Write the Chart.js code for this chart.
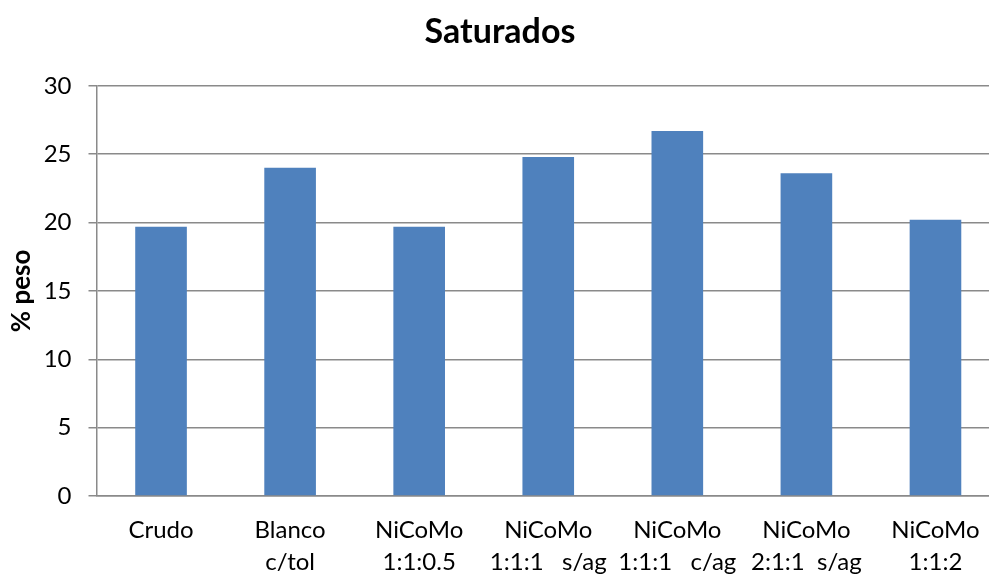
<!DOCTYPE html>
<html>
<head>
<meta charset="utf-8">
<script src="https://cdn.jsdelivr.net/npm/chart.js@4/dist/chart.umd.min.js"></script>
<style>
  html, body { margin: 0; padding: 0; background: #fff; overflow: hidden; }
  #wrap { width: 1000px; height: 574px; position: relative; }
</style>
</head>
<body>
<div id="wrap"><canvas id="chart"></canvas></div>
<script>
// categories (multi-line labels as in the original)
const categories = [
    ["Crudo"],
    ["Blanco", "c/tol"],
    ["NiCoMo", "1:1:0.5"],
    ["NiCoMo", "1:1:1   s/ag"],
    ["NiCoMo", "1:1:1   c/ag"],
    ["NiCoMo", "2:1:1  s/ag"],
    ["NiCoMo", "1:1:2"]
];

// % peso of saturados
const saturados = [19.7, 24.0, 19.7, 24.8, 26.7, 23.6, 20.2];

const yTicks = [0, 5, 10, 15, 20, 25, 30];

const FONT = "Lato, 'Open Sans', sans-serif";
const GRID = "#8a8a8a";

new Chart(document.getElementById("chart"), {
    type: "bar",
    data: {
        labels: categories,
        datasets: [{
            label: "Saturados",
            data: saturados,
            backgroundColor: "#4f81bd",
            borderWidth: 0,
            categoryPercentage: 1.0,
            barPercentage: 0.4
        }]
    },
    options: {
        responsive: true,
        maintainAspectRatio: false,
        animation: false,
        layout: { padding: 0 },
        plugins: {
            legend: { display: false },
            tooltip: { enabled: false },
            title: {
                display: true,
                text: "Saturados",
                color: "#000",
                font: { family: FONT, size: 34, weight: "bold", lineHeight: 1.2 },
                padding: { top: 12, bottom: 33 }
            }
        },
        scales: {
            x: {
                afterFit: (scale) => { scale.height = 78; },
                grid: { display: false, drawTicks: false },
                border: { display: true, color: GRID, width: 1.5 },
                ticks: {
                    color: "#000",
                    font: { family: FONT, size: 24, lineHeight: "32px" },
                    padding: 18,
                    maxRotation: 0,
                    autoSkip: false
                }
            },
            y: {
                min: 0,
                max: 30,
                afterBuildTicks: (scale) => {
                    scale.ticks = yTicks.map(v => ({ value: v }));
                },
                afterFit: (scale) => { scale.width = 96.5; },
                grid: { color: GRID, lineWidth: 1.5, tickLength: 8 },
                border: { display: true, color: GRID, width: 1.5 },
                ticks: {
                    color: "#000",
                    font: { family: FONT, size: 24 },
                    padding: 17
                },
                title: {
                    display: true,
                    text: "% peso",
                    color: "#000",
                    font: { family: FONT, size: 26, weight: "bold", lineHeight: 1.2 },
                    padding: { top: 6, bottom: 0 }
                }
            }
        }
    }
});
</script>
</body>
</html>
